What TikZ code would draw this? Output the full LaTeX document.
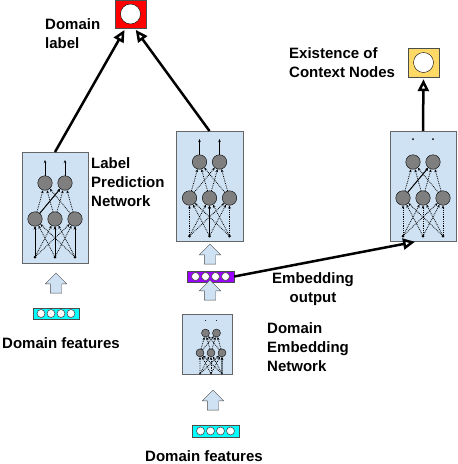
\documentclass[tikz,border=0pt]{standalone}
\usepackage{fontspec}
\setmainfont{Liberation Sans}
\usetikzlibrary{arrows.meta,shapes.arrows}

\definecolor{boxblue}{HTML}{CFE2F3}
\definecolor{unitgray}{HTML}{7F7F7F}
\definecolor{labelred}{HTML}{FF0000}
\definecolor{ctxyellow}{HTML}{FFD966}
\definecolor{featcyan}{HTML}{00FFFF}
\definecolor{embpurple}{HTML}{9900FF}

\tikzset{
	netbox/.style={draw=black!60,fill=boxblue,inner sep=0pt,anchor=north},
	unit/.style={circle,draw=black,fill=unitgray,minimum size=14.5pt,inner sep=0pt,line width=0.4pt},
	inpt/.style={circle,fill=black,minimum size=3pt,inner sep=0pt},
	wire/.style={densely dotted,line width=0.8pt,-{Stealth[length=3pt,width=2.5pt]}},
	swire/.style={line width=0.9pt,-{Stealth[length=3pt,width=2.5pt]}},
	bigarrow/.style={line width=2.5pt,-{Triangle[open,fill=white,length=12pt,width=11pt]},shorten >=2pt},
	outbox/.style={draw=black!70,minimum width=31pt,minimum height=28pt,inner sep=0pt},
	outcirc/.style={circle,draw=black,fill=white,minimum size=20pt,inner sep=0pt},
	vec/.style={draw=black!70,minimum width=46pt,minimum height=11pt,inner sep=0pt},
	vcirc/.style={circle,draw=black!70,fill=white,minimum size=8pt,inner sep=0pt,line width=0.6pt},
	uparrow/.style={single arrow,shape border rotate=90,draw=black!70,fill=boxblue,minimum height=20pt,minimum width=21pt,inner sep=5.5pt,single arrow head extend=5pt},
	lbl/.style={font=\fontsize{15}{19}\selectfont\bfseries,inner sep=0pt,align=left}
}

% small network drawn inside a box: prefix, x, top y, scale, output arrows (1/0), solid links
\newcommand{\nnet}[6]{%
	\begin{scope}[shift={(#2,#3)},scale=#4,transform shape]
		\foreach \i/\x in {1/-10,2/10} \node[unit] (#1t\i) at (\x,31) {};
		\foreach \i/\x in {1/-20,2/0,3/20} {
			\node[unit] (#1m\i) at (\x,67) {};
			\node[inpt] (#1b\i) at (\x,105) {};
		}
		\foreach \i in {1,2,3} \foreach \j in {1,2,3} \draw[wire] (#1b\i) -- (#1m\j);
		\foreach \i in {1,2,3} \foreach \j in {1,2} \draw[wire] (#1m\i) -- (#1t\j);
		\foreach \p/\q in {#6} \draw[swire] (#1\p) -- (#1\q);
		\foreach \i/\x in {1/-10,2/10} {
			\coordinate (#1o\i) at (\x,8);
			\ifnum#5=1 \draw[swire] (#1t\i) -- (#1o\i); \else \fill (#1o\i) circle (1pt); \fi
		}
	\end{scope}}

\begin{document}
\begin{tikzpicture}[x=1pt,y=-1pt]
	\useasboundingbox (0,0) rectangle (458,464);

	\node[outbox,fill=labelred] (dlabel) at (130.5,14) {};
	\node[outcirc] (dlabel-c) at (dlabel.center) {};
	\node[outbox,fill=ctxyellow,minimum height=29pt] (ctx) at (423.5,62.5) {};
	\node[outcirc] (ctx-c) at (ctx.center) {};

	\node[netbox,minimum width=66pt,minimum height=111pt] (lnet) at (55,152) {};
	\node[netbox,minimum width=67pt,minimum height=110pt] (mnet) at (209.5,131) {};
	\node[netbox,minimum width=66pt,minimum height=110pt] (rnet) at (423,131) {};
	\node[netbox,minimum width=50pt,minimum height=60pt] (enet) at (207,314) {};

	\nnet{ln}{55}{152}{1}{1}{b1/m1,b2/m2,b3/m3,m1/t2}
	\nnet{mn}{209.5}{131}{1}{1}{b2/m2}
	\nnet{rn}{423}{131}{1}{0}{m1/t2}
	\nnet{en}{211}{316}{0.55}{0}{b3/m3}

	\node[vec,fill=featcyan] (lfeat) at (56,313.5) {};
	\node[vec,fill=embpurple,minimum width=47pt] (emb) at (210.5,276.5) {};
	\node[vec,fill=featcyan,minimum width=47pt,minimum height=12pt] (bfeat) at (215.5,431) {};
	\foreach \v in {lfeat,emb,bfeat}
		\foreach \i/\d in {1/-15,2/-5,3/5,4/15}
			\node[vcirc] (\v-\i) at ([xshift=\d pt]\v.center) {};

	\node[uparrow] (lup) at (56,286) {};
	\node[uparrow] (mup1) at (210,257) {};
	\node[uparrow] (mup2) at (210,293) {};
	\node[uparrow] (bup) at (213,403) {};

	\draw[bigarrow] (lnet.north) -- ([xshift=-5pt]dlabel.south);
	\draw[bigarrow] (mnet.north) -- ([xshift=4pt]dlabel.south);
	\draw[bigarrow] (rnet.north) -- (ctx.south);
	\draw[bigarrow] (emb.east) -- ([xshift=-6pt]rnet.south);

	\node[lbl,anchor=north west] (dlabel-t) at (45,18) {Domain\\label};
	\node[lbl,anchor=north west] (lnet-t) at (91,157) {Label\\Prediction\\Network};
	\node[lbl,anchor=north west] (ctx-t) at (289,47) {Existence of\\Context Nodes};
	\node[lbl,align=center,anchor=north] (emb-t) at (313,272) {Embedding\\output};
	\node[lbl,anchor=north west] (enet-t) at (267,322) {Domain\\Embedding\\Network};
	\node[lbl,anchor=north west] (lfeat-t) at (2,337) {Domain features};
	\node[lbl,anchor=north west] (bfeat-t) at (145,450) {Domain features};

\end{tikzpicture}
\end{document}
